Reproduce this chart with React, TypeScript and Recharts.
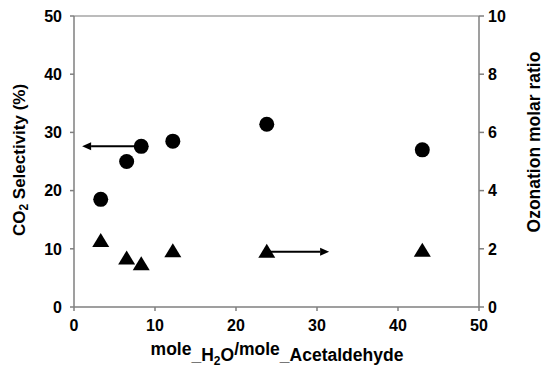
import { ComposedChart, Scatter, XAxis, YAxis, ReferenceLine } from 'recharts'

// mole H2O / mole acetaldehyde
const ratio = [3.3, 6.5, 8.3, 12.2, 23.8, 43.0]
// CO2 selectivity (%), left axis
const selectivity = [18.5, 25.0, 27.6, 28.5, 31.4, 27.0]
// ozonation molar ratio, right axis
const ozonation = [2.3, 1.7, 1.5, 1.95, 1.93, 1.97]

const xTicks = [0, 10, 20, 30, 40, 50]
const leftTicks = [0, 10, 20, 30, 40, 50]
const rightTicks = [0, 2, 4, 6, 8, 10]

// arrows pointing to the axis each series belongs to: [from x, to x, y]
const leftArrow = [8.3, 1.0, 27.6]
const rightArrow = [23.8, 31.5, 1.9]

const selData = ratio.map((x, i) => ({ x, y: selectivity[i] }))
const ozoData = ratio.map((x, i) => ({ x, y: ozonation[i] }))

const FONT = '"Liberation Sans", Arial, sans-serif'
const AXIS = '#7f7f7f'
const axisLine = { stroke: AXIS, strokeWidth: 1.5 }

const tick = (anchor: string, dy: string) => (p: any) => (
  <text x={p.x} y={p.y} dy={dy} textAnchor={anchor} fill="#000" fontSize={16} fontWeight={700} fontFamily={FONT}>
    {p.payload.value}
  </text>
)

const Dot = (p: any) => <circle cx={p.cx} cy={p.cy} r={7.5} fill="#000" />

const Tri = (p: any) => (
  <polygon
    points={`${p.cx},${p.cy - 7} ${p.cx + 8.5},${p.cy + 7} ${p.cx - 8.5},${p.cy + 7}`}
    fill="#000"
  />
)

const Arrow = (p: any) => {
  const { x1, y1, x2, y2 } = p
  const dir = x2 > x1 ? 1 : -1
  const head = 9
  return (
    <g>
      <line x1={x1} y1={y1} x2={x2 - dir * head} y2={y2} stroke="#000" strokeWidth={2} />
      <polygon points={`${x2},${y2} ${x2 - dir * head},${y2 - 4} ${x2 - dir * head},${y2 + 4}`} fill="#000" />
    </g>
  )
}

const LeftTitle = () => (
  <text x={19} y={160} transform="rotate(-90 19 160)" textAnchor="middle" dominantBaseline="central"
    fontSize={17} fontWeight={700} fontFamily={FONT} fill="#000">
    CO<tspan dy={5} fontSize={12}>2</tspan><tspan dy={-5}> Selectivity (%)</tspan>
  </text>
)

const RightTitle = () => (
  <text x={534} y={142} transform="rotate(-90 534 142)" textAnchor="middle" dominantBaseline="central"
    fontSize={17.5} fontWeight={700} fontFamily={FONT} fill="#000">
    Ozonation molar ratio
  </text>
)

const BottomTitle = () => (
  <text x={277} y={355} textAnchor="middle" fontSize={17.5} fontWeight={700} fontFamily={FONT} fill="#000">
    mole<tspan dy={6}>_H</tspan><tspan dy={4} fontSize={12}>2</tspan><tspan dy={-4}>O</tspan>
    <tspan dy={-6}>/mole</tspan><tspan dy={6}>_Acetaldehyde</tspan>
  </text>
)

export default function App() {
  return (
    <div style={{ position: 'absolute', left: 0, top: 0, background: '#fff' }}>
      <ComposedChart width={543} height={380} margin={{ top: 16, right: 0, bottom: 0, left: 0 }}>
        <XAxis dataKey="x" type="number" domain={[0, 50]} ticks={xTicks} height={73}
          axisLine={axisLine} tickLine={axisLine} tickSize={4} tickMargin={9}
          tick={tick('middle', '0.71em')} label={<BottomTitle />} />
        <YAxis yAxisId="left" dataKey="y" type="number" domain={[0, 50]} ticks={leftTicks} width={74}
          axisLine={axisLine} tickLine={axisLine} tickSize={4} tickMargin={8}
          tick={tick('end', '0.36em')} label={<LeftTitle />} />
        <YAxis yAxisId="right" dataKey="y" orientation="right" type="number" domain={[0, 10]} ticks={rightTicks} width={64}
          axisLine={axisLine} tickLine={axisLine} tickSize={5} tickMargin={4}
          tick={tick('start', '0.36em')} label={<RightTitle />} />
        <ReferenceLine yAxisId="left" y={50} stroke="#a6a6a6" strokeWidth={1.5} />
        <Scatter yAxisId="left" data={selData} dataKey="y" shape={Dot} isAnimationActive={false} />
        <Scatter yAxisId="right" data={ozoData} dataKey="y" shape={Tri} isAnimationActive={false} />
        <ReferenceLine yAxisId="left" segment={[{ x: leftArrow[0], y: leftArrow[2] }, { x: leftArrow[1], y: leftArrow[2] }]} shape={Arrow} />
        <ReferenceLine yAxisId="right" segment={[{ x: rightArrow[0], y: rightArrow[2] }, { x: rightArrow[1], y: rightArrow[2] }]} shape={Arrow} />
      </ComposedChart>
    </div>
  )
}
